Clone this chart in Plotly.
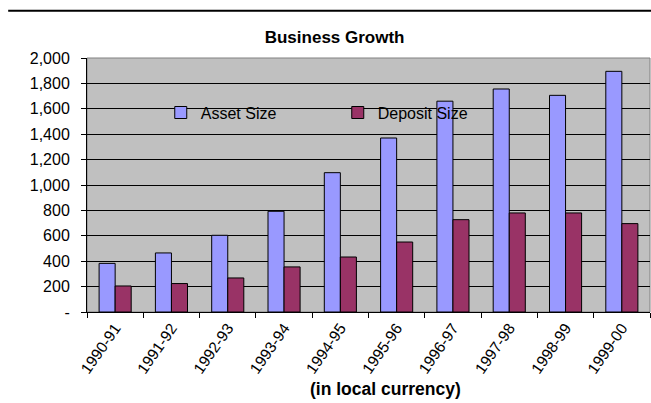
import plotly.graph_objects as go

years = ["1990-91", "1991-92", "1992-93", "1993-94", "1994-95",
         "1995-96", "1996-97", "1997-98", "1998-99", "1999-00"]
asset_size = [383, 465, 604, 793, 1097, 1370, 1660, 1756, 1706, 1895]
deposit_size = [205, 224, 268, 355, 433, 551, 727, 780, 780, 696]
y_ticks = [0, 200, 400, 600, 800, 1000, 1200, 1400, 1600, 1800, 2000]
y_labels = ["-", "200", "400", "600", "800", "1,000", "1,200", "1,400", "1,600", "1,800", "2,000"]

FONT = "Liberation Sans, Arial, sans-serif"

fig = go.Figure()
fig.add_trace(go.Bar(x=years, y=asset_size, name="Asset Size",
                     marker=dict(color="#9999FF", line=dict(color="black", width=1))))
fig.add_trace(go.Bar(x=years, y=deposit_size, name="Deposit Size",
                     marker=dict(color="#993366", line=dict(color="black", width=1))))

fig.update_layout(
    width=651, height=403,
    margin=dict(l=87, r=1, t=58, b=91),
    paper_bgcolor="white", plot_bgcolor="#C0C0C0",
    font=dict(family=FONT, size=15, color="black"),
    barmode="group", bargap=0.43, bargroupgap=0,
    title=dict(text="<b>Business Growth</b>", x=0.514, xanchor="center",
               y=0.908, yanchor="middle", font=dict(size=17)),
    legend=dict(orientation="h", x=0.131, y=0.785, xanchor="left", yanchor="middle",
                bgcolor="rgba(0,0,0,0)", font=dict(size=16), itemwidth=30,
                entrywidth=132, traceorder="normal"),
    shapes=[
        dict(type="rect", xref="paper", yref="paper", x0=0, x1=1, y0=0, y1=1,
             line=dict(color="#808080", width=1), layer="below"),
        dict(type="line", xref="paper", yref="paper", x0=-0.14, x1=1.01,
             y0=1.186, y1=1.186, line=dict(color="black", width=2), layer="above"),
    ],
    annotations=[
        dict(text="<b>(in local currency)</b>", xref="paper", yref="paper",
             x=0.531, y=-0.303, xanchor="center", yanchor="middle",
             showarrow=False, font=dict(size=17.5)),
    ],
)
fig.update_xaxes(
    automargin=False,
    tickangle=-55, tickfont=dict(size=15.5), ticks="outside", ticklen=5,
    tickson="boundaries", tickcolor="black",
    showline=True, linecolor="black", linewidth=1,
)
fig.update_yaxes(
    automargin=False,
    range=[0, 2000], tickvals=y_ticks, ticktext=y_labels, tickfont=dict(size=16),
    ticks="outside", ticklen=5, tickcolor="black", ticklabelstandoff=8,
    showline=True, linecolor="black", linewidth=1,
    showgrid=True, gridcolor="black", gridwidth=1, zeroline=False,
)

fig.write_html("out.html", config={"displayModeBar": False},
               post_script="document.body.style.margin='0';")
